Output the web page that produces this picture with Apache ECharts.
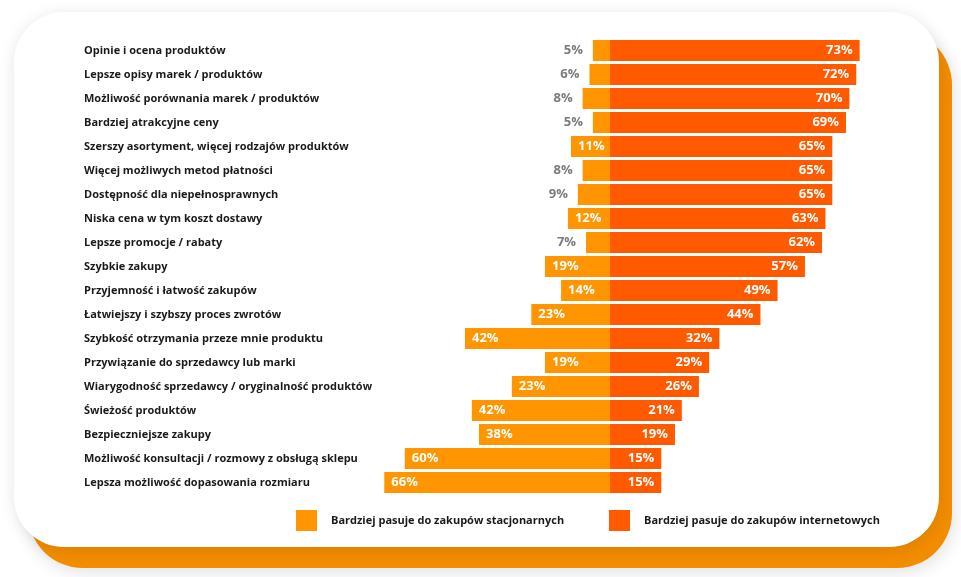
<!DOCTYPE html>
<html>
<head>
<meta charset="utf-8">
<style>
html,body{margin:0;padding:0;background:#ffffff;}
#chart{width:961px;height:577px;}
</style>
<script src="https://cdn.jsdelivr.net/npm/echarts@6/dist/echarts.min.js"></script>
</head>
<body>
<div id="chart"></div>
<script>
const categories = [
  'Opinie i ocena produktów',
  'Lepsze opisy marek / produktów',
  'Możliwość porównania marek / produktów',
  'Bardziej atrakcyjne ceny',
  'Szerszy asortyment, więcej rodzajów produktów',
  'Więcej możliwych metod płatności',
  'Dostępność dla niepełnosprawnych',
  'Niska cena w tym koszt dostawy',
  'Lepsze promocje / rabaty',
  'Szybkie zakupy',
  'Przyjemność i łatwość zakupów',
  'Łatwiejszy i szybszy proces zwrotów',
  'Szybkość otrzymania przeze mnie produktu',
  'Przywiązanie do sprzedawcy lub marki',
  'Wiarygodność sprzedawcy / oryginalność produktów',
  'Świeżość produktów',
  'Bezpieczniejsze zakupy',
  'Możliwość konsultacji / rozmowy z obsługą sklepu',
  'Lepsza możliwość dopasowania rozmiaru'
];
// printed percentages
const stationaryLabels = [5, 6, 8, 5, 11, 8, 9, 12, 7, 19, 14, 23, 42, 19, 23, 42, 38, 60, 66];
// bar lengths as drawn in the picture
const stationary = [5, 6, 8, 5, 11.4, 8, 9.4, 12.3, 7, 19, 14.3, 23, 42.4, 19, 28.7, 40.4, 38.3, 60, 66];
const online = [73, 72, 70, 69, 65, 65, 65, 63, 62, 57, 49, 44, 32, 29, 26, 21, 19, 15, 15];
const seriesNames = ['Bardziej pasuje do zakupów stacjonarnych', 'Bardziej pasuje do zakupów internetowych'];

const FONT = "'Open Sans', 'Noto Sans', sans-serif";
const C_LEFT = '#ff9500';
const C_RIGHT = '#ff5a00';

const chart = echarts.init(document.getElementById('chart'), null, {renderer: 'canvas'});

const leftData = stationary.map((v, i) => {
  const small = stationaryLabels[i] < 10;
  return {
    value: -v,
    printed: stationaryLabels[i],
    label: small
      ? {position: 'left', distance: 10, color: '#7b7b7b'}
      : {position: 'insideLeft', distance: 7, color: '#ffffff'}
  };
});

const legendText = {fontFamily: FONT, fontWeight: 'bold', fontSize: 11, color: '#1a1a1a', padding: [0, 0, 0, 9]};

const option = {
  animation: false,
  backgroundColor: '#ffffff',
  graphic: [
    {
      type: 'rect', z: -10,
      shape: {x: 28, y: 30, width: 924, height: 538, r: 55},
      style: {fill: '#f28c00', shadowBlur: 18, shadowColor: 'rgba(0,0,0,0.12)', shadowOffsetX: 2, shadowOffsetY: 4}
    },
    {
      type: 'rect', z: -9,
      shape: {x: 14, y: 12, width: 925, height: 535, r: 50},
      style: {fill: '#ffffff', shadowBlur: 16, shadowColor: 'rgba(0,0,0,0.10)', shadowOffsetX: 0, shadowOffsetY: 2}
    }
  ],
  grid: {
    left: 336.4, right: 43.2, top: 38.5, height: 456,
    outerBoundsMode: 'none', containLabel: false
  },
  xAxis: {
    type: 'value', min: -80, max: 90, show: false,
    splitLine: {show: false}
  },
  yAxis: {
    type: 'category', data: categories, inverse: true,
    axisLine: {show: false, onZero: false}, axisTick: {show: false},
    axisLabel: {
      align: 'left', margin: 252.4, fontFamily: FONT, fontWeight: 'bold',
      fontSize: 11, color: '#1a1a1a', padding: [0, 0, 3, 0]
    }
  },
  legend: [
    {
      data: [seriesNames[0]], left: 296, top: 510, padding: 0, itemWidth: 21, itemHeight: 21,
      icon: 'rect', selectedMode: false, textStyle: legendText
    },
    {
      data: [seriesNames[1]], left: 609, top: 510, padding: 0, itemWidth: 21, itemHeight: 21,
      icon: 'rect', selectedMode: false, textStyle: legendText
    }
  ],
  series: [
    {
      name: seriesNames[0], type: 'bar', stack: 'total', barWidth: 21,
      itemStyle: {color: C_LEFT},
      label: {
        show: true, fontFamily: FONT, fontWeight: 'bold', fontSize: 13,
        formatter: p => p.data.printed + '%'
      },
      data: leftData
    },
    {
      name: seriesNames[1], type: 'bar', stack: 'total', barWidth: 21,
      itemStyle: {color: C_RIGHT},
      label: {
        show: true, position: 'insideRight', distance: 7, color: '#ffffff',
        fontFamily: FONT, fontWeight: 'bold', fontSize: 13,
        formatter: p => p.value + '%'
      },
      data: online
    }
  ]
};
chart.setOption(option);
</script>
</body>
</html>
